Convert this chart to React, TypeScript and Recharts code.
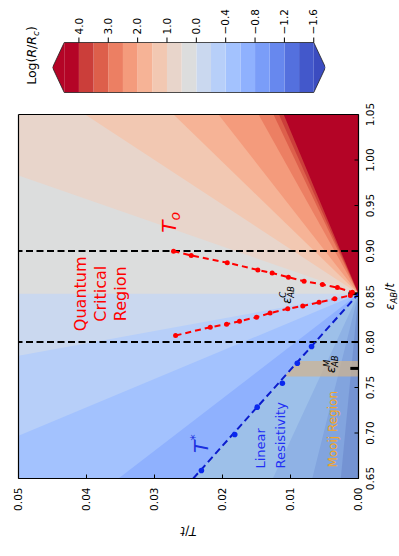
import { ComposedChart, Area, Line, XAxis, YAxis, ReferenceLine, ReferenceDot } from 'recharts';

const FONT = '"DejaVu Sans", sans-serif';

const EPS_MIN = 0.65;
const EPS_MAX = 1.05;
const T_MAX = 0.05;
const EPS_C = 0.853; // all contour boundaries fan out from here
const EPS_M = 0.771;

const epsTicks = [0.65, 0.7, 0.75, 0.8, 0.85, 0.9, 0.95, 1.0, 1.05];
const tTicks = [0, 0.01, 0.02, 0.03, 0.04, 0.05];

// log(R/Rc) levels, top of the colour bar first
const levelColors = [
  '#b40426', '#cb3e3a', '#dd5f4b', '#ec7f63', '#f49b7c', '#f6b396', '#f2c8b2', '#e8d5cb',
  '#dcdddd', '#cad8ef', '#b7cff9', '#a3c2fe', '#8fb1fe', '#7a9df8', '#6788ee', '#5470de', '#4358cb',
];
const overColor = '#b40426';
const underColor = '#3b4cc0';
const cbTickAt = [0.8, 2.8, 4.8, 6.8, 8.8, 10.8, 12.8, 14.8, 16.8];
const cbTickLabels = ['\u22121.6', '\u22121.2', '\u22120.8', '\u22120.4', '0.0', '1.0', '2.0', '3.0', '4.0'];
const CB_TIP = 0.8;
const CB_TOP = levelColors.length + 2 * CB_TIP;

// contour boundaries: where each one leaves the frame
const warmEndEps = [0.983, 1.05, 1.05, 1.05, 1.05, 1.05, 1.05, 1.05];
const warmEndT = [0.05, 0.0402, 0.0272, 0.0206, 0.0147, 0.0125, 0.0117, 0.011];
const warmLevel = [7, 6, 5, 4, 3, 2, 1, 0];

const coolEndEps = [0.785, 0.697, 0.65, 0.65, 0.65, 0.65];
const coolEndT = [0.05, 0.05, 0.0353, 0.0126, 0.0068, 0.0026];
const coolLevel = [10, 11, 12, 13, 14, 15];

// T_o, two branches
const toUpperEps = [0.8998, 0.8951, 0.8872, 0.8792, 0.8758, 0.8712, 0.8668, 0.8632, 0.8598, 0.8547];
const toUpperT = [0.0272, 0.0246, 0.0193, 0.0148, 0.0127, 0.0103, 0.008, 0.0053, 0.0031, 0.0009];
const toLowerEps = [0.8071, 0.8163, 0.8195, 0.8229, 0.8272, 0.8318, 0.8365, 0.8396, 0.8436, 0.8474, 0.8512];
const toLowerT = [0.0269, 0.0218, 0.0194, 0.0175, 0.015, 0.013, 0.0104, 0.0082, 0.0058, 0.0035, 0.0012];

// T* crossover
const tStarEps = [0.65, 0.853];
const tStarT = [0.0243, 0];
const tStarPtsEps = [0.6588, 0.6984, 0.7284, 0.7547, 0.7767, 0.795];
const tStarPtsT = [0.0231, 0.0182, 0.0149, 0.0112, 0.009, 0.0069];

// eps_AB^M band under T*
const bandEps = [0.762, 0.779];
const bandT = [0.0109, 0.0089];

const zip = (xs: number[], ys: number[]) => xs.map((x, i) => ({ x, y: ys[i] }));

function warmWedge(i: number) {
  const pts = [{ x: EPS_C, y: 0 }, { x: warmEndEps[i], y: warmEndT[i] }];
  if (warmEndEps[i] < EPS_MAX) pts.push({ x: EPS_MAX, y: T_MAX });
  return pts;
}

function coolWedge(i: number) {
  const pts = [{ x: coolEndEps[i], y: coolEndT[i] }, { x: EPS_C, y: 0 }];
  if (coolEndEps[i] > EPS_MIN) pts.unshift({ x: EPS_MIN, y: T_MAX });
  return pts;
}

const EpsTick = (p: any) => (
  <g>
    <line x1={p.x} y1={p.y} x2={p.x} y2={p.y - 4} stroke="#000" />
    <text x={p.x} y={p.y + 15} textAnchor="middle" fontSize={10.5} fontFamily={FONT} fill="#000">
      {p.payload.value.toFixed(2)}
    </text>
  </g>
);

const TTick = (p: any) => (
  <g>
    <line x1={p.x} y1={p.y} x2={p.x + 4} y2={p.y} stroke="#000" />
    <text x={p.x - 9} y={p.y + 3.8} textAnchor="end" fontSize={10.5} fontFamily={FONT} fill="#000">
      {p.payload.value.toFixed(2)}
    </text>
  </g>
);

const epsLabel = (sup: string) => (p: any) => (
  <g fontFamily={FONT} fill="#000">
    <text x={p.cx} y={p.cy} fontSize={12} fontStyle="italic">ε</text>
    <text x={p.cx + 6} y={p.cy - 5} fontSize={8.5} fontStyle="italic">{sup}</text>
    <text x={p.cx + 6} y={p.cy + 3} fontSize={8.5} fontStyle="italic">AB</text>
  </g>
);

function PhaseDiagram() {
  return (
    <ComposedChart width={456} height={399} margin={{ top: 18, right: 14, bottom: 0, left: 0 }}>
      <XAxis
        dataKey="x"
        type="number"
        domain={[EPS_MIN, EPS_MAX]}
        ticks={epsTicks}
        interval={0}
        height={41}
        tickSize={0}
        tickMargin={0}
        tickLine={false}
        tick={EpsTick}
        axisLine={{ stroke: '#000', strokeWidth: 1.2 }}
        allowDataOverflow
      />
      <YAxis
        dataKey="y"
        type="number"
        domain={[0, T_MAX]}
        ticks={tTicks}
        interval={0}
        width={78}
        tickSize={0}
        tickMargin={0}
        tickLine={false}
        tick={TTick}
        axisLine={{ stroke: '#000', strokeWidth: 1.2 }}
        allowDataOverflow
      />

      {/* contour wedges */}
      <Area data={zip([EPS_MIN, EPS_MAX], [T_MAX, T_MAX])} dataKey="y" type="linear" fill={levelColors[8]} fillOpacity={1} stroke="none" isAnimationActive={false} />
      <Area data={zip([EPS_MIN, EPS_C], [T_MAX, T_MAX])} dataKey="y" type="linear" fill={levelColors[9]} fillOpacity={1} stroke="none" isAnimationActive={false} />
      {warmLevel.map((lv, i) => (
        <Area key={`w${i}`} data={warmWedge(i)} dataKey="y" type="linear" fill={levelColors[lv]} fillOpacity={1} stroke="none" isAnimationActive={false} />
      ))}
      {coolLevel.map((lv, i) => (
        <Area key={`c${i}`} data={coolWedge(i)} dataKey="y" type="linear" fill={levelColors[lv]} fillOpacity={1} stroke="none" isAnimationActive={false} />
      ))}

      {/* linear-resistivity region and eps_M band */}
      <Area data={zip(tStarEps, tStarT)} dataKey="y" type="linear" fill="#c0e4b8" fillOpacity={0.3} stroke="none" isAnimationActive={false} />
      <Area data={zip(bandEps, bandT)} dataKey="y" type="linear" fill="#d2b48c" fillOpacity={0.7} stroke="none" isAnimationActive={false} />

      <ReferenceLine x={0.8} stroke="#000" strokeWidth={2} strokeDasharray="7 3.5" />
      <ReferenceLine x={0.9} stroke="#000" strokeWidth={2} strokeDasharray="7 3.5" />
      <ReferenceLine y={T_MAX} stroke="#000" strokeWidth={1.2} />
      <ReferenceLine x={EPS_MAX} stroke="#000" strokeWidth={1.2} />
      <ReferenceLine segment={[{ x: EPS_M, y: 0 }, { x: EPS_M, y: 0.0012 }]} stroke="#000" strokeWidth={3} />
      <ReferenceLine segment={[{ x: EPS_C, y: 0 }, { x: EPS_C, y: 0.0015 }]} stroke="#000" strokeWidth={3} />

      <Line data={zip(tStarEps, tStarT)} dataKey="y" type="linear" stroke="#0b1ccc" strokeWidth={2} strokeDasharray="7 4" dot={false} activeDot={false} isAnimationActive={false} />
      <Line data={zip(tStarPtsEps, tStarPtsT)} dataKey="y" type="linear" stroke="none" dot={{ r: 2.8, fill: '#0a28ee', stroke: 'none' }} activeDot={false} isAnimationActive={false} />
      <Line data={zip(toUpperEps, toUpperT)} dataKey="y" type="linear" stroke="#ff0000" strokeWidth={2} strokeDasharray="6 4" dot={{ r: 2.5, fill: '#ff0000', stroke: 'none' }} activeDot={false} isAnimationActive={false} />
      <Line data={zip(toLowerEps, toLowerT)} dataKey="y" type="linear" stroke="#ff0000" strokeWidth={2} strokeDasharray="6 4" dot={{ r: 2.5, fill: '#ff0000', stroke: 'none' }} activeDot={false} isAnimationActive={false} />

      {/* annotations */}
      <ReferenceDot x={0.92} y={0.0269} r={0} shape={(p: any) => (
        <text x={p.cx} y={p.cy} fontFamily={FONT} fill="#ff0000" fontStyle="italic">
          <tspan fontSize={20}>T</tspan>
          <tspan fontSize={14} dy={4}>o</tspan>
        </text>
      )} />
      <ReferenceDot x={EPS_C} y={0.038} r={0} shape={(p: any) => (
        <text x={p.cx} y={p.cy} fontFamily={FONT} fill="#ff0000" fontSize={16} textAnchor="middle" dominantBaseline="central">
          <tspan x={p.cx} dy={-20}>Quantum</tspan>
          <tspan x={p.cx} dy={20}>Critical</tspan>
          <tspan x={p.cx} dy={20}>Region</tspan>
        </text>
      )} />
      <ReferenceDot x={0.842} y={0.01} r={0} shape={epsLabel('C')} />
      <ReferenceDot x={0.766} y={0.0034} r={0} shape={epsLabel('M')} />
      <ReferenceDot x={0.678} y={0.0222} r={0} shape={(p: any) => (
        <text x={p.cx} y={p.cy} fontFamily={FONT} fill="#1a2fe0" fontStyle="italic">
          <tspan fontSize={20}>T</tspan>
          <tspan fontSize={13} dy={-9}>*</tspan>
        </text>
      )} />
      <ReferenceDot x={0.661} y={0.0137} r={0} shape={(p: any) => (
        <text x={p.cx} y={p.cy} fontFamily={FONT} fill="#1f2ff5" fontSize={13}>
          <tspan x={p.cx}>Linear</tspan>
          <tspan x={p.cx} dy={19.5}>Resistivity</tspan>
        </text>
      )} />
      <ReferenceDot x={0.662} y={0.0031} r={0} shape={(p: any) => (
        <text x={p.cx} y={p.cy} fontFamily={FONT} fill="#f5a623" fontSize={12}>Mooij Region</text>
      )} />

      {/* axis titles */}
      <text x={260} y={393} textAnchor="middle" fontFamily={FONT} fontSize={12} fill="#000">
        <tspan fontStyle="italic">ε</tspan>
        <tspan fontStyle="italic" fontSize={8.5} dy={3}>AB</tspan>
        <tspan dy={-3}>/</tspan>
        <tspan fontStyle="italic">t</tspan>
      </text>
      <text x={30} y={188} textAnchor="middle" fontFamily={FONT} fontSize={12} fill="#000" transform="rotate(-90 30 188)">
        <tspan fontStyle="italic">T</tspan>/<tspan fontStyle="italic">t</tspan>
      </text>
    </ComposedChart>
  );
}

// colour bar: one band per level, bottom level first, plus the two extension tips
const cbBands = levelColors
  .slice()
  .reverse()
  .map((color, k) => ({
    color,
    data: [
      { x: 0, v: [CB_TIP + k, CB_TIP + k + 1] },
      { x: 1, v: [CB_TIP + k, CB_TIP + k + 1] },
    ],
  }));
const cbUnder = [
  { x: 0, v: [CB_TIP, CB_TIP] },
  { x: 0.5, v: [0, CB_TIP] },
  { x: 1, v: [CB_TIP, CB_TIP] },
];
const cbOver = [
  { x: 0, v: [CB_TOP - CB_TIP, CB_TOP - CB_TIP] },
  { x: 0.5, v: [CB_TOP - CB_TIP, CB_TOP] },
  { x: 1, v: [CB_TOP - CB_TIP, CB_TOP - CB_TIP] },
];
const cbOutline = [
  { x: 0, y: CB_TIP }, { x: 0.5, y: 0 }, { x: 1, y: CB_TIP },
  { x: 1, y: CB_TOP - CB_TIP }, { x: 0.5, y: CB_TOP }, { x: 0, y: CB_TOP - CB_TIP },
  { x: 0, y: CB_TIP },
];

function ColorBar() {
  return (
    <ComposedChart width={106} height={325} margin={{ top: 52, right: 0, bottom: 0, left: 14 }}>
      <XAxis dataKey="x" type="number" domain={[0, 1]} hide />
      <YAxis
        orientation="right"
        type="number"
        domain={[0, CB_TOP]}
        ticks={cbTickAt}
        interval={0}
        width={42}
        tickSize={5}
        tickMargin={3}
        axisLine={false}
        tickLine={{ stroke: '#000' }}
        tickFormatter={(v: number) => cbTickLabels[cbTickAt.indexOf(v)]}
        tick={{ fontSize: 10.5, fontFamily: FONT, fill: '#000' }}
        allowDataOverflow
      />
      <Area data={cbUnder} dataKey="v" type="linear" fill={underColor} fillOpacity={1} stroke="none" isAnimationActive={false} />
      {cbBands.map((b, k) => (
        <Area key={k} data={b.data} dataKey="v" type="linear" fill={b.color} fillOpacity={1} stroke="none" isAnimationActive={false} />
      ))}
      <Area data={cbOver} dataKey="v" type="linear" fill={overColor} fillOpacity={1} stroke="none" isAnimationActive={false} />
      <Line data={cbOutline} dataKey="y" type="linear" stroke="#222" strokeWidth={0.8} dot={false} activeDot={false} isAnimationActive={false} />
      <text x={51} y={35} textAnchor="middle" fontFamily={FONT} fontSize={12.5} fill="#000">
        Log(<tspan fontStyle="italic">R</tspan>/<tspan fontStyle="italic">R</tspan>
        <tspan fontStyle="italic" fontSize={9} dy={3}>c</tspan>
        <tspan dy={-3}>)</tspan>
      </text>
    </ComposedChart>
  );
}

export default function App() {
  return (
    <div style={{ position: 'fixed', left: 0, top: 0, width: 399, height: 556, overflow: 'hidden', background: '#fff' }}>
      <div style={{ position: 'absolute', left: -78.5, top: 78.5, width: 556, height: 399, transform: 'rotate(-90deg)' }}>
        <div style={{ position: 'absolute', left: 0, top: 0 }}>
          <PhaseDiagram />
        </div>
        <div style={{ position: 'absolute', left: 450, top: 0 }}>
          <ColorBar />
        </div>
      </div>
    </div>
  );
}
